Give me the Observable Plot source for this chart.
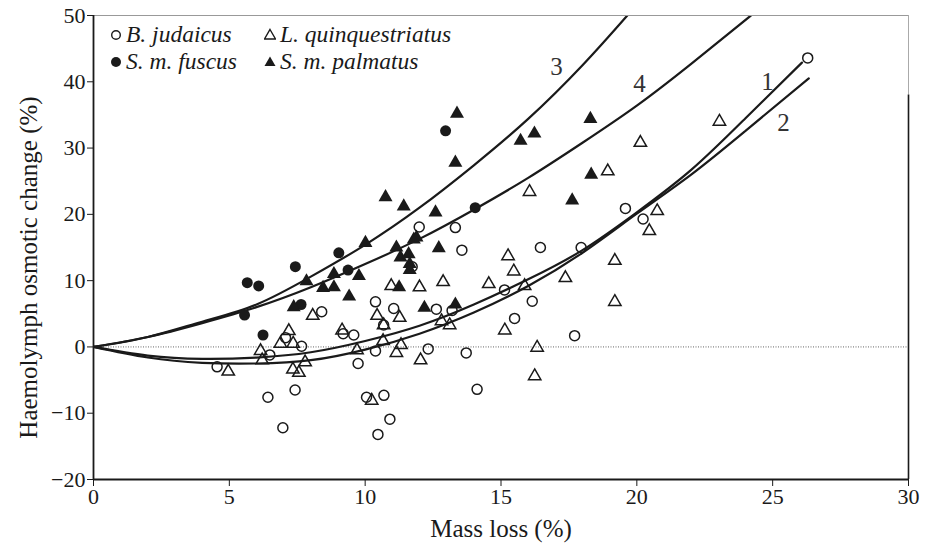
<!DOCTYPE html>
<html>
<head>
<meta charset="utf-8">
<script src="https://cdn.jsdelivr.net/npm/d3@7"></script>
<script src="https://cdn.jsdelivr.net/npm/@observablehq/plot@0.6"></script>
<style>
  body { margin: 0; background: #fff; }
  #wrap { position: relative; width: 935px; height: 546px; font-family: "Liberation Serif", "Times New Roman", serif; color: #1a1a1a; }
  #legend { position: absolute; left: 110px; top: 21px; display: grid; grid-template-columns: 154px auto; grid-auto-rows: 27px; font-style: italic; font-size: 23.5px; line-height: 27px; }
  #legend .item { display: flex; align-items: center; white-space: nowrap; }
  #legend svg { margin-right: 4px; }
</style>
</head>
<body>
<div id="wrap"></div>
<script>
// ---- Data ----
const xTicks = [0, 5, 10, 15, 20, 25, 30];
const yTicks = [-20, -10, 0, 10, 20, 30, 40, 50];

// B. judaicus (open circles): [mass loss %, haemolymph osmotic change %]
const judaicus = [
  [4.55,-3.0],[6.42,-7.6],[6.97,-12.2],[6.49,-1.2],[7.07,1.4],[7.66,0.1],[7.42,-6.5],[8.40,5.3],
  [9.19,2.0],[9.58,1.8],[9.74,-2.5],[10.38,6.8],[11.05,5.8],[10.68,3.3],[10.38,-0.6],[10.05,-7.6],
  [10.69,-7.3],[10.91,-10.9],[10.47,-13.2],[12.62,5.7],[13.20,5.5],[12.32,-0.3],[13.72,-0.9],[14.12,-6.4],
  [11.99,18.1],[13.32,18.0],[13.56,14.6],[11.73,12.1],[15.13,8.6],[16.45,15.0],[17.95,15.0],[16.15,6.9],
  [19.58,20.9],[20.23,19.3],[15.50,4.3],[17.71,1.7],[26.29,43.6]
];
// L. quinquestriatus (open triangles)
const quinquestriatus = [
  [4.96,-3.7],[6.15,-0.6],[6.21,-2.0],[7.19,2.4],[6.88,0.5],[7.35,0.5],[7.34,-3.4],[7.56,-3.9],
  [7.79,-2.3],[8.07,4.7],[9.15,2.5],[9.70,-0.5],[10.44,4.7],[11.27,4.4],[10.68,3.3],[10.66,0.9],
  [11.15,-0.9],[11.32,0.3],[10.24,-8.1],[12.00,9.0],[12.87,9.8],[12.81,3.9],[13.11,3.3],[12.04,-2.0],
  [10.96,9.2],[14.55,9.5],[15.87,9.2],[17.37,10.4],[15.26,13.7],[15.47,11.4],[19.19,13.0],[19.19,6.8],
  [15.14,2.5],[16.33,-0.1],[16.24,-4.4],[20.75,20.5],[20.46,17.5],[20.13,30.8],[16.05,23.4],[18.93,26.5],
  [23.04,34.0]
];
// S. m. fuscus (filled circles)
const fuscus = [
  [5.56,4.8],[5.66,9.7],[6.08,9.2],[6.24,1.8],[7.43,12.1],[7.64,6.4],[9.03,14.2],[9.37,11.6],
  [12.96,32.6],[14.05,21.0]
];
// S. m. palmatus (filled triangles)
const palmatus = [
  [7.37,6.0],[7.84,9.9],[8.45,8.9],[8.85,9.0],[8.85,11.0],[9.41,7.6],[9.77,10.7],[10.01,15.7],
  [10.75,22.6],[11.15,15.0],[11.25,9.0],[11.30,13.5],[11.42,21.2],[11.60,14.0],[11.64,12.5],[11.64,11.6],
  [11.79,16.2],[11.89,16.5],[12.18,5.9],[12.59,20.3],[12.71,14.9],[13.32,6.4],[13.32,27.8],[13.38,35.2],
  [15.72,31.1],[16.23,32.2],[17.62,22.1],[18.29,34.4],[18.32,26.0]
];

// Fitted curves
const curve1 = [[0,0],[2,-1.3],[4,-1.8],[6,-1.6],[8,-0.8],[10,0.9],[12,3.2],[14,6.4],[16,10.2],[18,14.6],[20,20.3],[22,26.7],[24,34.5],[26.08,42.9]];
const curve2 = [[0,0],[2,-1.6],[4,-2.4],[6,-2.5],[8,-2.0],[10,-0.4],[12,2.0],[14,5.2],[16,9.2],[18,14.2],[20,20.1],[22,26.0],[24,32.6],[26.33,40.5]];
const curve3 = [[0,0],[2,1.5],[4,3.8],[6,6.4],[8,10.6],[10,15.4],[12,21.0],[14,27.4],[16,34.4],[18,42.5],[19.65,50]];
const curve4 = [[0,0],[2,1.5],[4,3.6],[6,6.0],[8,9.0],[10,12.5],[12,16.3],[14,20.7],[16,25.5],[18,30.8],[20,36.4],[22,42.7],[24.2,50]];

const curveLabels = ["1", "2", "3", "4"];
const curveLabelX = [24.81, 25.4, 17.04, 20.1];
const curveLabelY = [39.9, 33.8, 42.2, 39.7];

const legendNames = ["B. judaicus", "L. quinquestriatus", "S. m. fuscus", "S. m. palmatus"];
const legendSymbols = ["circle-open", "triangle-open", "circle", "triangle"];

const xLabel = "Mass loss (%)";
const yLabel = "Haemolymph osmotic change (%)";

// ---- Chart ----
const ink = "#1a1a1a";
const line = (data) => Plot.line(data, {x: d => d[0], y: d => d[1], curve: "natural", stroke: ink, strokeWidth: 2.2, clip: true});
const labelData = curveLabels.map((t, i) => ({t, x: curveLabelX[i], y: curveLabelY[i]}));

const chart = Plot.plot({
  width: 935,
  height: 546,
  marginLeft: 93,
  marginRight: 27,
  marginTop: 15,
  marginBottom: 67,
  style: {fontFamily: "'Liberation Serif', 'Times New Roman', serif", fontSize: "22px", background: "#fff", color: ink},
  x: {domain: [0, 30], label: null},
  y: {domain: [-20, 50], label: null},
  marks: [
    Plot.ruleY([0], {stroke: "#666", strokeWidth: 1, strokeDasharray: "1,1.5"}),
    line(curve1), line(curve2), line(curve3), line(curve4),
    Plot.dot(judaicus, {x: d => d[0], y: d => d[1], r: 5, symbol: "circle", fill: "none", stroke: ink, strokeWidth: 1.5}),
    Plot.dot(quinquestriatus, {x: d => d[0], y: d => d[1], r: 4.6, symbol: "triangle", fill: "none", stroke: ink, strokeWidth: 1.5}),
    Plot.dot(fuscus, {x: d => d[0], y: d => d[1], r: 5.5, symbol: "circle", fill: ink, stroke: "none"}),
    Plot.dot(palmatus, {x: d => d[0], y: d => d[1], r: 5.2, symbol: "triangle", fill: ink, stroke: "none"}),
    Plot.text(labelData, {x: "x", y: "y", text: "t", fontSize: 25, fill: "#333"}),
    // frame
    Plot.ruleY([50], {stroke: "#999", strokeWidth: 1}),
    Plot.ruleX([30], {y1: 50, y2: 38, stroke: "#aaa", strokeWidth: 1}),
    Plot.ruleX([30], {y1: 38, y2: -20, stroke: ink, strokeWidth: 1.6}),
    Plot.ruleX([0], {stroke: ink, strokeWidth: 1.8}),
    Plot.ruleY([-20], {stroke: ink, strokeWidth: 1.8}),
    Plot.axisX({ticks: xTicks, tickSize: 7, tickPadding: 2, fontSize: 22, label: null, tickFormat: d3.format("d")}),
    Plot.axisY({ticks: yTicks, tickSize: 6, tickPadding: 2, fontSize: 22, label: null}),
    Plot.text([xLabel], {frameAnchor: "bottom", dy: 49, lineAnchor: "middle", textAnchor: "middle", fontSize: 25, fill: ink}),
    Plot.text([yLabel], {frameAnchor: "left", dx: -65, dy: 20, rotate: -90, textAnchor: "middle", lineAnchor: "middle", fontSize: 25, fill: ink})
  ]
});

const wrap = document.getElementById("wrap");
wrap.appendChild(chart);

// Legend inside the plot area (HTML overlay)
const legend = document.createElement("div");
legend.id = "legend";
const symSvg = (s) => {
  const filled = !s.endsWith("open");
  const fill = filled ? ink : "none";
  const shape = s.startsWith("circle")
    ? `<circle cx="6" cy="7" r="${filled ? 5 : 4.3}" fill="${fill}" stroke="${ink}" stroke-width="${filled ? 0 : 1.4}"/>`
    : `<path d="M6,1.5 L11.5,11 L0.5,11 Z" fill="${fill}" stroke="${ink}" stroke-width="${filled ? 0 : 1.4}" stroke-linejoin="miter"/>`;
  return `<svg width="12" height="13" viewBox="0 0 12 13">${shape}</svg>`;
};
legendNames.forEach((name, i) => {
  const item = document.createElement("div");
  item.className = "item";
  item.innerHTML = symSvg(legendSymbols[i]) + `<span>${name}</span>`;
  legend.appendChild(item);
});
wrap.appendChild(legend);
</script>
</body>
</html>
